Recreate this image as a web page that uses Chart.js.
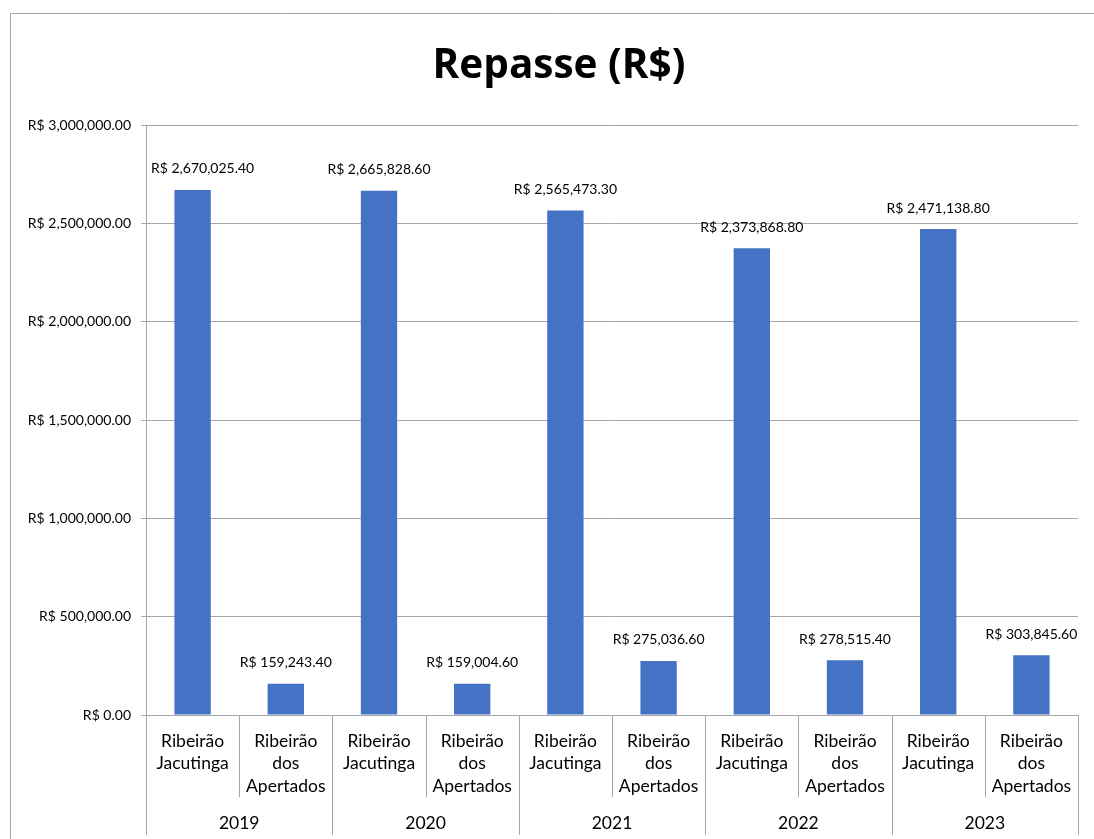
<!DOCTYPE html>
<html>
<head>
<meta charset="utf-8">
<script src="https://cdn.jsdelivr.net/npm/chart.js@4/dist/chart.umd.min.js"></script>
<style>
html,body{margin:0;padding:0;background:#fff;}
#wrap{position:relative;width:1094px;height:839px;}
</style>
</head>
<body>
<div id="wrap"><canvas id="c" width="1094" height="839"></canvas></div>
<script>
const years = ['2019','2020','2021','2022','2023'];
const categories = [
  ['Ribeirão','Jacutinga'], ['Ribeirão','dos','Apertados'],
  ['Ribeirão','Jacutinga'], ['Ribeirão','dos','Apertados'],
  ['Ribeirão','Jacutinga'], ['Ribeirão','dos','Apertados'],
  ['Ribeirão','Jacutinga'], ['Ribeirão','dos','Apertados'],
  ['Ribeirão','Jacutinga'], ['Ribeirão','dos','Apertados']
];
const repasse = [2670025.40, 159243.40, 2665828.60, 159004.60, 2565473.30, 275036.60, 2373868.80, 278515.40, 2471138.80, 303845.60];
const titleText = 'Repasse (R$)';
const yMax = 3000000;
const yStep = 500000;

const FONT = 'Lato, "Open Sans", sans-serif';
const fmt = v => 'R$ ' + v.toLocaleString('en-US', {minimumFractionDigits: 2, maximumFractionDigits: 2});

const decor = {
  id: 'decor',
  beforeDraw(chart) {
    const ctx = chart.ctx;
    ctx.save();
    ctx.fillStyle = '#fff';
    ctx.fillRect(0, 0, chart.width, chart.height);
    ctx.strokeStyle = '#a6a6a6';
    ctx.lineWidth = 1;
    ctx.beginPath();
    ctx.moveTo(10.5, chart.height);
    ctx.lineTo(10.5, 13.5);
    ctx.lineTo(chart.width, 13.5);
    ctx.stroke();
    // title
    ctx.fillStyle = '#000';
    ctx.font = 'bold 40.5px "Open Sans", sans-serif';
    ctx.textAlign = 'center';
    ctx.textBaseline = 'alphabetic';
    ctx.fillText(titleText, 559, 78);
    ctx.restore();
  },
  afterDatasetsDraw(chart) {
    const ctx = chart.ctx;
    const x = chart.scales.x;
    const area = chart.chartArea;
    ctx.save();
    // data labels
    ctx.fillStyle = '#000';
    ctx.font = '14px ' + FONT;
    ctx.textAlign = 'center';
    ctx.textBaseline = 'middle';
    const meta = chart.getDatasetMeta(0);
    meta.data.forEach((bar, i) => {
      const dx = i === 0 ? 10 : 0;
      ctx.fillText(fmt(repasse[i]), bar.x + dx, bar.y - 21);
    });
    // x axis baseline
    ctx.strokeStyle = '#a6a6a6';
    ctx.lineWidth = 1;
    ctx.beginPath();
    ctx.moveTo(area.left, Math.round(area.bottom) + 0.5);
    ctx.lineTo(area.right, Math.round(area.bottom) + 0.5);
    ctx.stroke();
    // dividers
    const n = categories.length;
    const w = (area.right - area.left) / n;
    for (let i = 0; i <= n; i++) {
      const px = Math.round(area.left + i * w) + 0.5;
      const yEnd = (i % 2 === 0) ? 835 : 797;
      ctx.beginPath();
      ctx.moveTo(px, area.bottom);
      ctx.lineTo(px, yEnd);
      ctx.stroke();
    }
    // category labels
    ctx.fillStyle = '#000';
    ctx.font = '17.5px ' + FONT;
    categories.forEach((lines, i) => {
      const cx = x.getPixelForValue(i);
      lines.forEach((t, j) => {
        ctx.fillText(t, cx, 741 + j * 22.5);
      });
    });
    // year labels
    years.forEach((yr, k) => {
      const cx = (x.getPixelForValue(2 * k) + x.getPixelForValue(2 * k + 1)) / 2;
      ctx.fillText(yr, cx, 823);
    });
    ctx.restore();
  }
};

new Chart(document.getElementById('c'), {
  type: 'bar',
  data: {
    labels: categories,
    datasets: [{
      data: repasse,
      backgroundColor: '#4472C4',
      borderWidth: 0,
      categoryPercentage: 1,
      barPercentage: 0.39
    }]
  },
  options: {
    responsive: false,
    animation: false,
    devicePixelRatio: 1,
    layout: { padding: { top: 125, right: 16, left: 0, bottom: 0 } },
    plugins: { legend: { display: false }, title: { display: false }, tooltip: { enabled: false } },
    scales: {
      x: {
        offset: true,
        grid: { display: false, drawTicks: false },
        border: { display: false },
        ticks: { display: false },
        afterFit(scale) { scale.height = 124; }
      },
      y: {
        min: 0, max: yMax,
        ticks: {
          stepSize: yStep,
          color: '#000',
          font: { family: FONT, size: 14 },
          padding: 10,
          callback: v => fmt(v)
        },
        grid: { color: '#a6a6a6', lineWidth: 1, tickLength: 5, drawTicks: true },
        border: { display: true, color: '#a6a6a6' },
        afterFit(scale) { scale.width = 146; }
      }
    }
  },
  plugins: [decor]
});
</script>
</body>
</html>
